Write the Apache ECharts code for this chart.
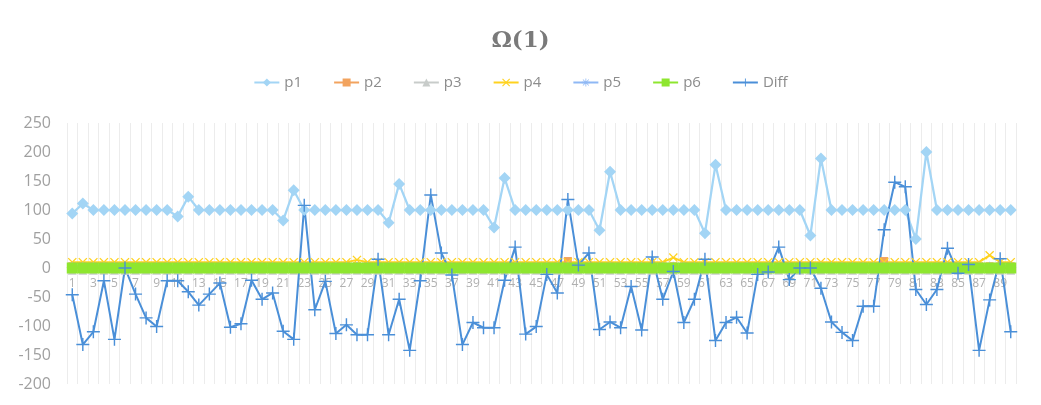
<!DOCTYPE html>
<html>
<head>
<meta charset="utf-8">
<script src="https://cdn.jsdelivr.net/npm/echarts@6/dist/echarts.min.js"></script>
<style>html,body{margin:0;padding:0;background:#fff}#c{width:1041px;height:405px}</style>
</head>
<body>
<div id="c"></div>
<script>
const categories = ['1','2','3','4','5','6','7','8','9','10','11','12','13','14','15','16','17','18','19','20','21','22','23','24','25','26','27','28','29','30','31','32','33','34','35','36','37','38','39','40','41','42','43','44','45','46','47','48','49','50','51','52','53','54','55','56','57','58','59','60','61','62','63','64','65','66','67','68','69','70','71','72','73','74','75','76','77','78','79','80','81','82','83','84','85','86','87','88','89','90'];
const p1 = [94,111,100,100,100,100,100,100,100,100,89,123,100,100,100,100,100,100,100,100,82,134,100,100,100,100,100,100,100,100,78,145,100,100,100,100,100,100,100,100,70,155,100,100,100,100,100,100,100,100,65,166,100,100,100,100,100,100,100,100,60,178,100,100,100,100,100,100,100,100,56,189,100,100,100,100,100,100,100,100,50,200,100,100,100,100,100,100,100,100];
const p2 = [3,3,3,3,3,3,3,3,3,3,3,3,3,3,3,3,3,3,3,3,3,3,3,3,3,3,3,3,3,3,3,3,3,3,3,3,3,3,3,3,3,3,3,3,3,3,3,12,3,3,3,3,3,3,3,3,3,3,3,3,3,3,3,3,3,3,3,3,3,3,3,3,3,3,3,3,3,12,3,3,3,3,3,3,3,3,3,3,3,3];
const p3 = [-4,-4,-4,-4,-4,-4,-4,-4,-4,-4,-4,-4,-4,-4,-4,-4,-4,-4,-4,-4,-4,-4,-4,-4,-4,-4,-4,-4,-4,-4,-4,-4,-4,-4,-4,-4,-4,-4,-4,-4,-4,-4,-4,-4,-4,-4,-4,-4,-4,-4,-4,-4,-4,-4,-4,-4,-4,-4,-4,-4,-4,-4,-4,-4,-4,-4,-4,-4,-4,-4,-4,-4,-4,-4,-4,-4,-4,-4,-4,-4,-4,-4,-4,-4,-4,-4,-4,-4,-4,-4];
const p4 = [10,10,10,10,10,10,10,10,10,10,10,10,10,10,10,10,10,10,10,10,10,10,10,10,10,10,10,14,10,10,10,10,10,10,10,10,10,10,10,10,10,10,10,10,10,10,10,10,10,10,10,10,10,10,10,10,10,18,10,10,10,10,10,10,10,10,10,10,10,10,10,10,10,10,10,10,10,10,10,10,10,10,10,10,10,10,10,22,10,10];
const p5 = [3,3,3,3,3,3,3,3,3,3,3,3,3,3,3,3,3,3,3,3,3,3,3,3,3,3,3,3,3,3,3,3,3,3,3,3,3,3,3,3,3,3,3,3,3,3,3,3,3,3,3,3,3,3,3,3,3,3,3,3,3,3,3,3,3,3,3,3,3,3,3,3,3,3,3,3,3,3,3,3,3,3,3,3,3,3,3,3,3,3];
const p6 = [0,0,0,0,0,0,0,0,0,0,0,0,0,0,0,0,0,0,0,0,0,0,0,0,0,0,0,0,0,0,0,0,0,0,0,0,0,0,0,0,0,0,0,0,0,0,0,0,0,0,0,0,0,0,0,0,0,0,0,0,0,0,0,0,0,0,0,0,0,0,0,0,0,0,0,0,0,0,0,0,0,0,0,0,0,0,0,0,0,0];
const diff = [-46,-132,-110,-22,-123,0,-45,-86,-101,-22,-22,-41,-64,-45,-26,-102,-96,-21,-54,-43,-109,-123,108,-72,-23,-113,-98,-115,-115,15,-115,-54,-142,-22,126,26,-12,-132,-94,-103,-103,-21,36,-114,-101,-11,-43,118,5,26,-106,-93,-103,-32,-107,19,-54,-6,-94,-54,15,-125,-94,-85,-112,-11,-7,36,-20,0,0,-35,-93,-111,-125,-66,-66,66,148,140,-37,-63,-37,34,-9,6,-142,-55,16,-110];
const yTicks = {min: -200, max: 250, step: 50};

const PLUS = 'path://M4.45,0H5.55V4.45H10V5.55H5.55V10H4.45V5.55H0V4.45H4.45Z';
const XMARK = 'path://M0,1L1,0L5,4L9,0L10,1L6,5L10,9L9,10L5,6L1,10L0,9L4,5Z';
const STAR = 'path://M4.5,0H5.5V4H10V6H5.5V10H4.5V6H0V4H4.5Z M1,1.6L1.6,1L9,8.4L8.4,9Z M8.4,1L9,1.6L1.6,9L1,8.4Z';

function mk(name, data, color, symbol, size, width) {
  return {
    name, type: 'line', data, symbol, symbolSize: size,
    showSymbol: true, showAllSymbol: true,
    lineStyle: {color, width},
    itemStyle: {color, borderWidth: 0},
    emphasis: {disabled: true}
  };
}

const chart = echarts.init(document.getElementById('c'), null, {renderer: 'canvas'});
chart.setOption({
  animation: false,
  backgroundColor: '#ffffff',
  title: {
    text: 'Ω(1)', left: 'center', top: 25,
    textStyle: {fontFamily: 'DejaVu Serif', fontSize: 23, fontWeight: 'bold', color: '#7a7a7a'}
  },
  legend: {
    top: 70, left: 'center', itemWidth: 25, itemHeight: 10, itemGap: 31,
    textStyle: {fontFamily: 'Open Sans', fontSize: 15, color: '#8c8c8c'},
    data: ['p1','p2','p3','p4','p5','p6','Diff']
  },
  grid: {left: 67, right: 25, top: 123, bottom: 21, containLabel: false},
  xAxis: {
    type: 'category', data: categories, boundaryGap: true,
    offset: -117,
    axisLine: {show: true, onZero: false, lineStyle: {color: '#d9d9d9'}},
    axisTick: {show: false},
    axisLabel: {interval: 1, color: '#b0b0b0', fontFamily: 'Open Sans', fontSize: 12, margin: 11},
    splitLine: {show: true, interval: 0, lineStyle: {color: '#ececec', width: 1}}
  },
  yAxis: {
    type: 'value', min: yTicks.min, max: yTicks.max, interval: yTicks.step,
    axisLine: {show: false}, axisTick: {show: false},
    splitLine: {show: false},
    axisLabel: {color: '#a0a0a0', fontFamily: 'Open Sans', fontSize: 16, margin: 16}
  },
  series: [
    mk('p1', p1, '#a3d5f5', 'diamond', 12, 2.25),
    mk('p2', p2, '#f2a35e', 'rect', 8, 2),
    mk('p3', p3, '#c8ccca', 'triangle', 9, 2),
    mk('p4', p4, '#ffd21f', XMARK, 9, 2),
    mk('p5', p5, '#8fb8f5', STAR, 9, 2),
    mk('p6', p6, '#8ee62f', 'rect', 11, 2.5),
    mk('Diff', diff, '#4a8fd8', PLUS, 13, 2)
  ]
});
</script>
</body>
</html>
